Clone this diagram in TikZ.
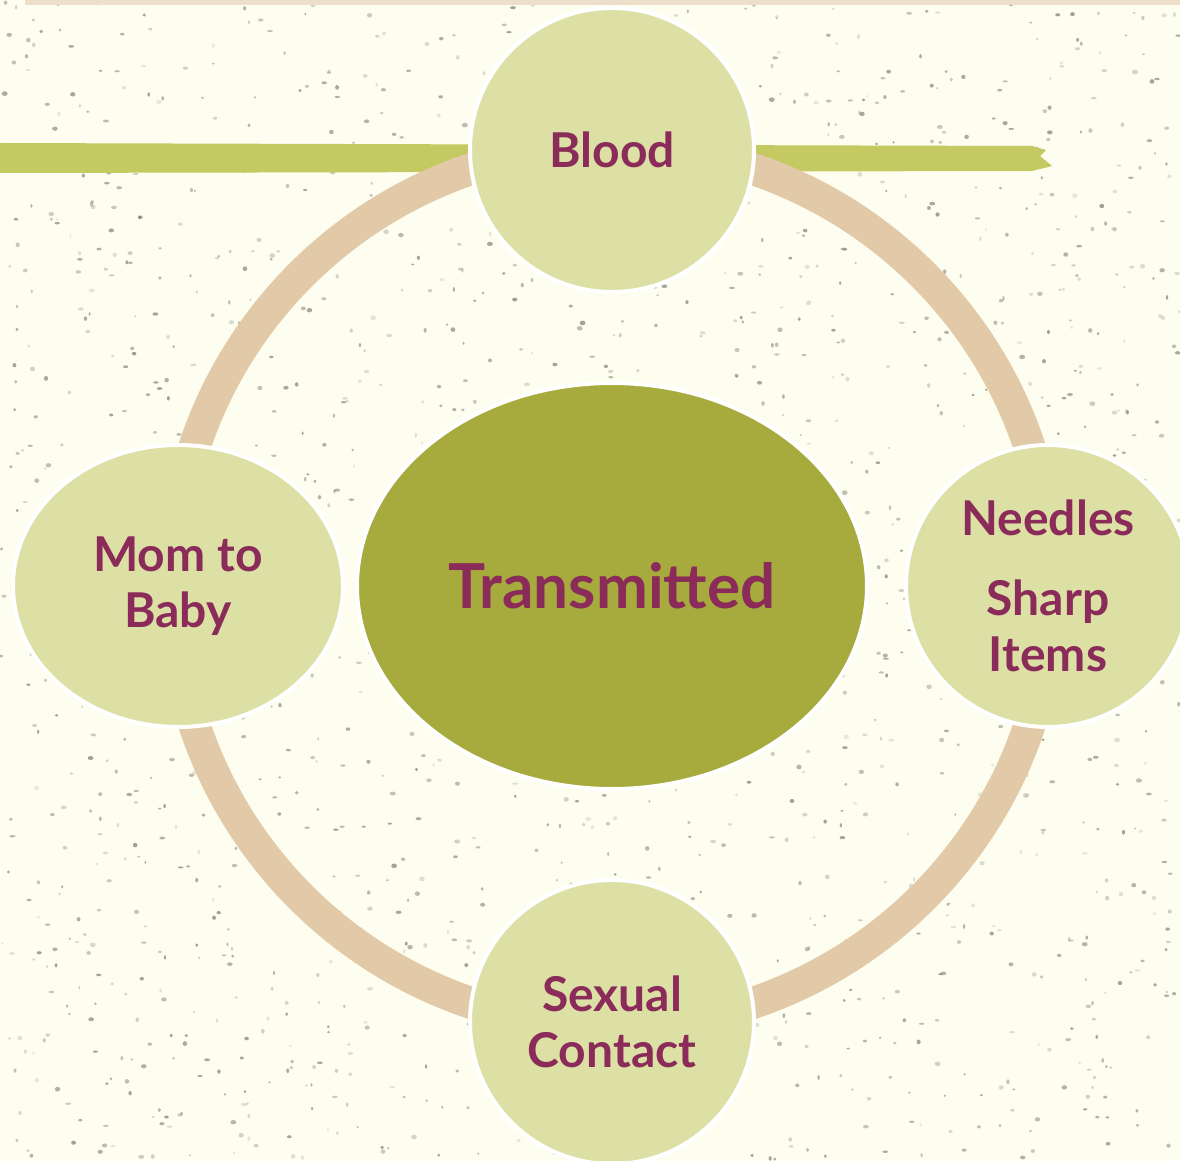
\documentclass[tikz,border=0pt]{standalone}
\usepackage{fontspec}
\setmainfont{Lato}
\usepackage{tikz}
\usetikzlibrary{shapes.geometric}
\definecolor{paper}{HTML}{FDFDF0}
\definecolor{band}{HTML}{EEDFCB}
\definecolor{grass}{HTML}{C5C962}
\definecolor{ring}{HTML}{E2CAA9}
\definecolor{pale}{HTML}{DCE0A4}
\definecolor{olive}{HTML}{A7AA3C}
\definecolor{plum}{HTML}{8A2B5A}
\definecolor{speck}{HTML}{6E6E62}

\begin{document}
\begin{tikzpicture}[x=0.5pt,y=-0.5pt,
  bubble/.style={ellipse,fill=pale,draw=white,line width=2pt,inner sep=0pt,
    align=center,text=plum,font=\bfseries\fontsize{24}{28}\selectfont},
  hub/.style={ellipse,fill=olive,draw=white,line width=2pt,inner sep=0pt,
    minimum width=255pt,minimum height=203pt,text=plum,font=\bfseries\fontsize{31}{36}\selectfont}]
  % paper and texture
  \fill[paper] (0,0) rectangle (1180,1161);
  \useasboundingbox (0,0) rectangle (1180,1161);
  \pgfmathsetseed{42}
  \foreach \i in {1,...,1700}
    \fill[speck,opacity={0.15+0.5*rnd}] ({1180*rnd},{1161*rnd}) ellipse[x radius={1+2*rnd},y radius={1+1.4*rnd}];
  \fill[band] (25,0) rectangle (1180,5);
  % brush stroke
  \fill[grass] (0,143) -- (1032,146) -- (1046,150) -- (1040,156) -- (1052,166) -- (1032,171) -- (0,173) -- cycle;
  % ring
  \coordinate (mid) at (612,586);
  \draw[ring,line width=16pt] (mid) circle[radius=440];
  % nodes
  \node[hub] (hub) at (612,586) {Transmitted};
  \node[bubble,minimum width=142pt,minimum height=142pt] (blood) at (612,150) {Blood};
  \node[bubble,minimum width=165pt,minimum height=141pt] (mom) at (178,586) {Mom to\\Baby};
  \node[bubble,minimum width=142pt,minimum height=141pt] (sharp) at (1048,586) {Needles\\[12pt]Sharp\\Items};
  \node[bubble,minimum width=142pt,minimum height=142pt] (sex) at (612,1022) {Sexual\\Contact};
\end{tikzpicture}
\end{document}
